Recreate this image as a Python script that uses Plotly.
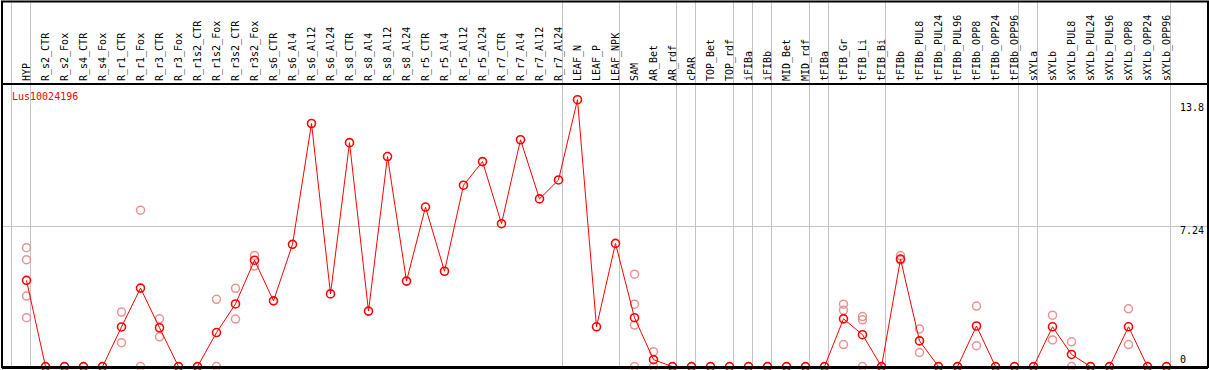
import plotly.graph_objects as go

gene = "Lus10024196"

categories = [
    "HYP", "R_s2_CTR", "R_s2_Fox", "R_s4_CTR", "R_s4_Fox", "R_r1_CTR", "R_r1_Fox",
    "R_r3_CTR", "R_r3_Fox", "R_r1s2_CTR", "R_r1s2_Fox", "R_r3s2_CTR", "R_r3s2_Fox",
    "R_s6_CTR", "R_s6_Al4", "R_s6_Al12", "R_s6_Al24", "R_s8_CTR", "R_s8_Al4",
    "R_s8_Al12", "R_s8_Al24", "R_r5_CTR", "R_r5_Al4", "R_r5_Al12", "R_r5_Al24",
    "R_r7_CTR", "R_r7_Al4", "R_r7_Al12", "R_r7_Al24", "LEAF_N", "LEAF_P", "LEAF_NPK",
    "SAM", "AR_Bet", "AR_rdf", "cPAR", "TOP_Bet", "TOP_rdf", "iFIBa", "iFIBb",
    "MID_Bet", "MID_rdf", "tFIBa", "tFIB_Gr", "tFIB_Li", "tFIB_Bi", "tFIBb",
    "tFIBb_PUL8", "tFIBb_PUL24", "tFIBb_PUL96", "tFIBb_OPP8", "tFIBb_OPP24",
    "tFIBb_OPP96", "sXYLa", "sXYLb", "sXYLb_PUL8", "sXYLb_PUL24", "sXYLb_PUL96",
    "sXYLb_OPP8", "sXYLb_OPP24", "sXYLb_OPP96",
]

mean_values = [
    4.46, 0, 0, 0, 0, 2.05, 4.06, 2.01, 0, 0, 1.76, 3.24, 5.50,
    3.40, 6.32, 12.57, 3.76, 11.58, 2.87, 10.86, 4.42, 8.25, 4.93, 9.38, 10.60,
    7.39, 11.73, 8.67, 9.65, 13.8, 2.06, 6.37,
    2.53, 0.36, 0, 0, 0, 0, 0, 0, 0, 0, 0, 2.47, 1.65, 0, 5.56,
    1.33, 0, 0, 2.10, 0, 0, 0, 2.06, 0.63, 0, 0, 2.06, 0, 0,
]

rep_cats = [
    "HYP", "HYP", "HYP", "HYP",
    "R_r1_CTR", "R_r1_CTR", "R_r1_Fox", "R_r1_Fox", "R_r3_CTR", "R_r3_CTR",
    "R_r1s2_Fox", "R_r1s2_Fox", "R_r3s2_CTR", "R_r3s2_CTR", "R_r3s2_Fox", "R_r3s2_Fox",
    "SAM", "SAM", "SAM", "SAM", "AR_Bet", "AR_Bet",
    "tFIB_Gr", "tFIB_Gr", "tFIB_Gr", "tFIB_Li", "tFIB_Li", "tFIB_Li",
    "tFIBb", "tFIBb", "tFIBb_PUL8", "tFIBb_PUL8", "tFIBb_OPP8", "tFIBb_OPP8",
    "sXYLb", "sXYLb", "sXYLb_PUL8", "sXYLb_PUL8", "sXYLb_OPP8", "sXYLb_OPP8",
]
rep_vals = [
    6.15, 5.53, 3.65, 2.53,
    2.82, 1.24, 8.09, 0, 2.47, 1.54,
    3.48, 0, 4.05, 2.46, 5.75, 5.20,
    4.78, 3.23, 2.15, 0, 0.77, 0,
    3.23, 2.92, 1.14, 2.59, 2.42, 0,
    5.74, 5.51, 1.95, 0.73, 3.13, 1.08,
    2.66, 1.38, 1.28, 0, 2.99, 1.14,
]

# last category of each group (separators drawn just after them)
group_last = ["HYP", "R_r7_Al24", "LEAF_NPK", "AR_rdf", "cPAR", "TOP_rdf", "iFIBa",
              "iFIBb", "MID_rdf", "tFIBa", "tFIB_Bi", "tFIBb_OPP96", "sXYLa", "sXYLb_OPP96"]

y_ticks = [0, 7.24, 13.8]
y_tick_text = ["0", "7.24", "13.8"]

idx = {c: i for i, c in enumerate(categories)}
xs = list(range(len(categories)))
rep_x = [idx[c] for c in rep_cats]

FONT = "DejaVu Sans Mono"
W, H = 1209, 370
ml, mr, mt, mb = 2, 1, 85, 1
plot_h = H - mt - mb

fig = go.Figure()
fig.add_trace(go.Scatter(
    x=rep_x, y=rep_vals, mode="markers", cliponaxis=False,
    marker=dict(symbol="circle-open", size=8, color="#e89494", line=dict(width=1.5, color="#e89494")),
    hoverinfo="skip", showlegend=False))
fig.add_trace(go.Scatter(
    x=xs, y=mean_values, mode="lines+markers", cliponaxis=False,
    line=dict(color="#ff0000", width=1),
    marker=dict(symbol="circle-open", size=8, color="#ff0000", line=dict(width=1.6, color="#ff0000")),
    showlegend=False))

shapes = []
sep_positions = [-1] + [idx[c] for c in group_last]
for p in sep_positions:
    shapes.append(dict(type="line", xref="x", yref="paper", x0=p + 0.21, x1=p + 0.21,
                       y0=0, y1=(H) / plot_h, line=dict(color="#c4c4c4", width=1), layer="below"))
# outer frame
shapes.append(dict(type="rect", xref="paper", yref="paper", x0=0, x1=1, y0=0,
                   y1=(H - 1 - mb) / plot_h, line=dict(color="black", width=2)))

annotations = []
anchors = ["bottom", "middle", "top"]
shifts = [0, -4, 0]
for v, t, a, s in zip(y_ticks, y_tick_text, anchors, shifts):
    annotations.append(dict(x=(1178 - ml) / (W - ml - mr), xref="paper", y=v, yref="y",
                            text=t, showarrow=False, xanchor="left", yanchor=a, yshift=s,
                            font=dict(family=FONT, size=10, color="black")))
annotations.append(dict(x=(10 - ml) / (W - ml - mr), xref="paper", y=(H - mb - 97) / plot_h,
                        yref="paper", text=gene, showarrow=False, xanchor="left",
                        yanchor="middle", font=dict(family=FONT, size=10, color="#ff0000")))

x_lo = (ml - 26.5) / 19
x_hi = (W - mr - 26.5) / 19
fig.update_layout(
    width=W, height=H,
    margin=dict(l=ml, r=mr, t=mt, b=mb, pad=0),
    paper_bgcolor="white", plot_bgcolor="white",
    shapes=shapes, annotations=annotations,
    xaxis=dict(side="top", range=[x_lo, x_hi], tickmode="array", tickvals=xs,
               ticktext=categories, tickangle=-90, showgrid=False, zeroline=False,
               showline=True, linecolor="black", linewidth=2, mirror=True, ticks="",
               tickfont=dict(family=FONT, size=10, color="black")),
    yaxis=dict(range=[-0.02, 14.56], tickmode="array", tickvals=[y_ticks[1]],
               showticklabels=False, showgrid=True, gridcolor="#c4c4c4", gridwidth=1,
               zeroline=False, showline=False, ticks=""),
)

fig.write_html("out.html", config={"displayModeBar": False},
               post_script="document.body.style.margin='0px';")
